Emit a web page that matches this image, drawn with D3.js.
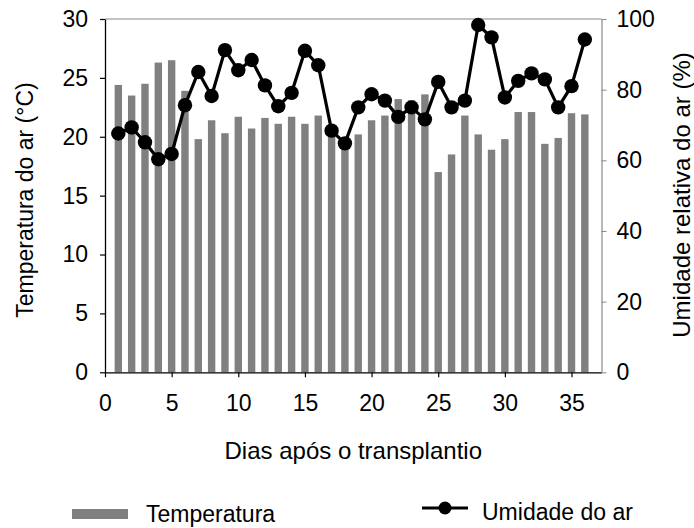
<!DOCTYPE html>
<html><head><meta charset="utf-8">
<script src="https://cdn.jsdelivr.net/npm/d3@7"></script>
<style>
body{margin:0;background:#fff;}
text{font-family:Arial,"Liberation Sans",sans-serif;fill:#000;}
</style></head>
<body><svg id="c" width="694" height="528"></svg>
<script>
const days = d3.range(1, 37);
const temperatura = [24.4,23.5,24.5,26.3,26.5,23.9,19.8,21.4,20.3,21.7,20.7,21.6,21.1,21.7,21.1,21.8,20.4,19.6,20.2,21.4,21.8,23.2,23.1,23.6,17.0,18.5,21.8,20.2,18.9,19.8,22.1,22.1,19.4,19.9,22.0,21.9];
const umidade = [67.6,69.3,65.1,60.3,61.8,75.6,85.0,78.2,91.2,85.5,88.4,81.2,75.3,79.1,91.0,86.9,68.4,64.8,75.0,78.7,76.9,72.3,75.0,71.6,82.2,75.0,76.9,98.3,94.8,77.8,82.5,84.6,82.9,75.0,81.0,94.2];
const xTicks = [0,5,10,15,20,25,30,35];
const yLeftTicks = [0,5,10,15,20,25,30];
const yRightTicks = [0,20,40,60,80,100];

const svg = d3.select("#c");
const L = 105, R = 601.5, T = 19, B = 372.3;
const x = d3.scaleLinear().domain([0, 37.25]).range([L, R]);
const yL = d3.scaleLinear().domain([0, 30]).range([B, T]);
const yR = d3.scaleLinear().domain([0, 100]).range([B, T]);
const barW = 7.4;
const fs = 23;

// top frame
svg.append("line").attr("x1", L).attr("x2", R).attr("y1", T).attr("y2", T)
  .attr("stroke", "#888").attr("stroke-width", 1.2);

// bars
svg.append("g").selectAll("rect").data(days).join("rect")
  .attr("x", d => x(d) - barW/2).attr("width", barW)
  .attr("y", (d,i) => yL(temperatura[i]))
  .attr("height", (d,i) => B - yL(temperatura[i]))
  .attr("fill", "#808080");

// axes
const gx = svg.append("g").attr("transform", `translate(0,${B})`)
  .call(d3.axisBottom(x).tickValues(xTicks).tickSize(5).tickPadding(17).tickSizeOuter(0));
const gl = svg.append("g").attr("transform", `translate(${L},0)`)
  .call(d3.axisLeft(yL).tickValues(yLeftTicks).tickSize(5).tickPadding(12).tickSizeOuter(0));
const gr = svg.append("g").attr("transform", `translate(${R},0)`)
  .call(d3.axisRight(yR).tickValues(yRightTicks).tickSize(5).tickPadding(10).tickSizeOuter(0));
[gx, gl].forEach(g => { g.select(".domain").attr("stroke", "#000").attr("stroke-width", 1.3); g.selectAll(".tick line").attr("stroke", "#000").attr("stroke-width", 1.2); });
gr.select(".domain").attr("stroke", "#888").attr("stroke-width", 1.2);
gr.selectAll(".tick line").attr("stroke", "#888");
svg.selectAll(".tick text").attr("font-size", fs).attr("font-family", "Arial, 'Liberation Sans', sans-serif").attr("fill", "#000");

// line
const line = d3.line().x((d,i) => x(days[i])).y(d => yR(d));
svg.append("path").datum(umidade).attr("d", line)
  .attr("fill", "none").attr("stroke", "#000").attr("stroke-width", 3.2).attr("stroke-linejoin", "round");
svg.append("g").selectAll("circle").data(umidade).join("circle")
  .attr("cx", (d,i) => x(days[i])).attr("cy", d => yR(d)).attr("r", 7.2).attr("fill", "#000");

// titles
svg.append("text").attr("x", (L+R)/2).attr("y", 459).attr("text-anchor", "middle")
  .attr("font-size", 24).text("Dias após o transplantio");
svg.append("text").attr("transform", "translate(33,200) rotate(-90)").attr("text-anchor", "middle")
  .attr("font-size", 23).text("Temperatura do ar (°C)");
svg.append("text").attr("transform", "translate(690,195) rotate(-90)").attr("text-anchor", "middle")
  .attr("font-size", 24).text("Umidade relativa do ar (%)");

// legend
svg.append("rect").attr("x", 72).attr("y", 509).attr("width", 56).attr("height", 10).attr("fill", "#808080");
svg.append("text").attr("x", 146).attr("y", 522).attr("font-size", 23).text("Temperatura");
svg.append("line").attr("x1", 422).attr("x2", 468).attr("y1", 508).attr("y2", 508)
  .attr("stroke", "#000").attr("stroke-width", 3);
svg.append("circle").attr("cx", 445).attr("cy", 508).attr("r", 6.5).attr("fill", "#000");
svg.append("text").attr("x", 482).attr("y", 520).attr("font-size", 23).text("Umidade do ar");
</script></body></html>
